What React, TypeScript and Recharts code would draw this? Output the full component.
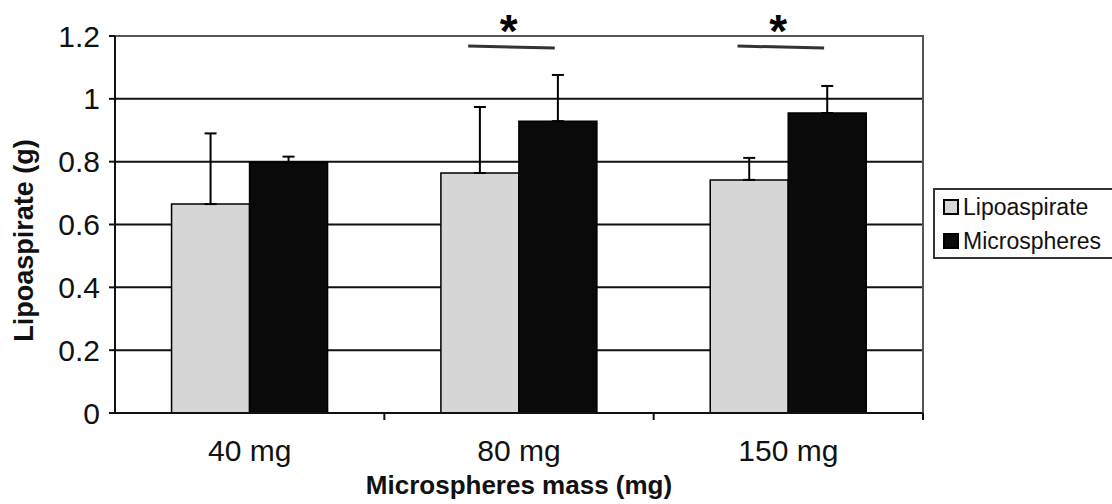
import React from 'react'
import {
  Bar,
  BarChart,
  CartesianGrid,
  ErrorBar,
  LabelList,
  ReferenceArea,
  XAxis,
  YAxis,
} from 'recharts'

const categories = ['40 mg', '80 mg', '150 mg']
const lipoaspirate = [0.665, 0.764, 0.742]
const lipoaspirateErr = [0.225, 0.21, 0.07]
const microspheres = [0.798, 0.929, 0.955]
const microspheresErr = [0.018, 0.147, 0.086]
const significant = [0, 1, 1]
const yTicks = [0, 0.2, 0.4, 0.6, 0.8, 1, 1.2]

// heights (in g) of the significance bar and of the asterisk
const sigLevel = 1.168
const starLevel = 1.25

const data = categories.map((name, i) => ({
  name,
  lipo: lipoaspirate[i],
  lipoErr: [0, lipoaspirateErr[i]],
  micro: microspheres[i],
  microErr: [0, microspheresErr[i]],
  sig: significant[i],
}))

const FONT = '"Liberation Sans", Arial, sans-serif'
const INK = '#111'

function CategoryTick(props: any) {
  const { x, y, payload } = props
  const half = payload?.offset ?? 0
  return (
    <g>
      {half > 0 && (
        <line x1={x + half} x2={x + half} y1={y} y2={y + 7} stroke={INK} strokeWidth={2} />
      )}
      <text x={x} y={y + 48} textAnchor="middle" fontSize={30} fill={INK} fontFamily={FONT}>
        {payload.value}
      </text>
    </g>
  )
}

// drawn on the microspheres bar: bracket over the pair and an asterisk
function SigMark(props: any) {
  const vb = props.viewBox || props
  const x = Number(vb.x ?? props.x)
  const y = Number(vb.y ?? props.y)
  const w = Number(vb.width ?? props.width)
  const h = Number(vb.height ?? props.height)
  const idx = props.index
  if (!significant[idx]) return null
  const value = microspheres[idx]
  const base = y + h
  const perUnit = h / value
  const lineY = base - sigLevel * perUnit
  const starY = base - starLevel * perUnit
  return (
    <g>
      <line
        x1={x - w * 0.65}
        y1={lineY}
        x2={x + w * 0.46}
        y2={lineY + 2}
        stroke="#333"
        strokeWidth={3}
      />
      <text
        x={x - w * 0.13}
        y={starY}
        dy="0.57em"
        textAnchor="middle"
        fontSize={46}
        fontWeight="bold"
        fill="#000"
        fontFamily={FONT}
      >
        *
      </text>
    </g>
  )
}

export default function App() {
  return (
    <div style={{ position: 'absolute', left: 0, top: 0, width: 1112, height: 504, background: '#fff', fontFamily: FONT }}>
      <BarChart
        width={1112}
        height={504}
        data={data}
        margin={{ top: 36, right: 189, left: 0, bottom: 0 }}
        barCategoryGap="21%"
        barGap={0}
      >
        <CartesianGrid vertical={false} stroke={INK} strokeWidth={2} />
        <ReferenceArea y1={0} y2={1.2} fill="none" stroke="#555" strokeWidth={2} />
        <XAxis
          dataKey="name"
          height={91}
          tickSize={0}
          tickMargin={0}
          tick={<CategoryTick />}
          axisLine={{ stroke: INK, strokeWidth: 2 }}
          tickLine={false}
          label={{
            content: (p: any) => {
              const vb = p.viewBox
              return (
                <text
                  x={vb.x + vb.width / 2}
                  y={vb.y + 81}
                  textAnchor="middle"
                  fontSize={26}
                  fontWeight="bold"
                  fill={INK}
                  fontFamily={FONT}
                >
                  Microspheres mass (mg)
                </text>
              )
            },
          }}
        />
        <YAxis
          width={115}
          domain={[0, 1.2]}
          ticks={yTicks}
          interval={0}
          tickSize={6}
          tickMargin={9}
          tickFormatter={(v: number) => String(v)}
          tick={{ fontSize: 30, fill: INK, fontFamily: FONT }}
          axisLine={{ stroke: INK, strokeWidth: 2 }}
          tickLine={{ stroke: INK, strokeWidth: 2 }}
          label={{
            content: (p: any) => {
              const vb = p.viewBox
              const cx = vb.x + 23
              const cy = vb.y + vb.height / 2 + 16
              return (
                <text
                  x={cx}
                  y={cy}
                  dy="0.36em"
                  transform={`rotate(-90 ${cx} ${cy})`}
                  textAnchor="middle"
                  fontSize={27}
                  fontWeight="bold"
                  fill={INK}
                  fontFamily={FONT}
                >
                  Lipoaspirate (g)
                </text>
              )
            },
          }}
        />
        <Bar dataKey="lipo" fill="#d6d6d6" stroke="#000" strokeWidth={1.5} isAnimationActive={false}>
          <ErrorBar dataKey="lipoErr" direction="y" width={6} stroke="#000" strokeWidth={2} />
        </Bar>
        <Bar dataKey="micro" fill="#0a0a0a" stroke="#000" strokeWidth={1.5} isAnimationActive={false}>
          <ErrorBar dataKey="microErr" direction="y" width={6} stroke="#000" strokeWidth={2} />
          <LabelList dataKey="sig" content={<SigMark />} />
        </Bar>
      </BarChart>
      <div
        style={{
          position: 'absolute',
          left: 933,
          top: 188,
          width: 175,
          height: 67,
          border: '2px solid #333',
          fontSize: 23,
          color: INK,
          lineHeight: '34px',
          paddingLeft: 8,
          boxSizing: 'content-box',
        }}
      >
        {[
          { label: 'Lipoaspirate', color: '#d6d6d6' },
          { label: 'Microspheres', color: '#0a0a0a' },
        ].map((item) => (
          <div key={item.label} style={{ display: 'flex', alignItems: 'center', height: 34 }}>
            <span
              style={{
                display: 'inline-block',
                width: 12,
                height: 12,
                background: item.color,
                border: '2px solid #000',
                marginRight: 4,
              }}
            />
            <span>{item.label}</span>
          </div>
        ))}
      </div>
    </div>
  )
}
